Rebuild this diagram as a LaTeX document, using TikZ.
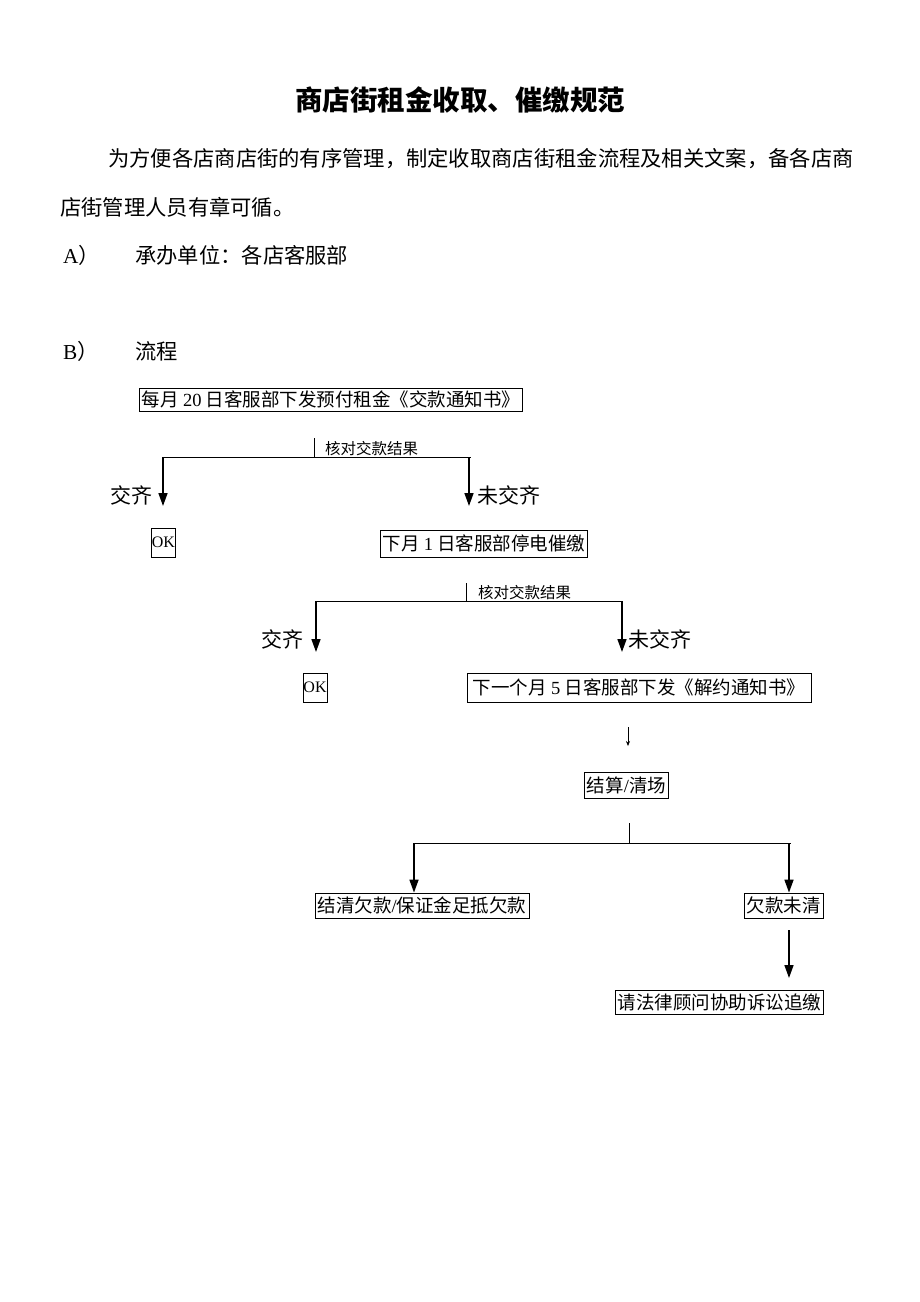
\documentclass[tikz,border=0pt]{standalone}
\usepackage{fontspec}
\setmainfont{Liberation Serif}
\newfontfamily\cjk{Noto Sans CJK SC}
\newfontfamily\latf{Liberation Serif}
\usetikzlibrary{arrows.meta}
\begin{document}
\begin{tikzpicture}[x=1pt,y=-1pt,
  box/.style={draw, line width=0.8pt, inner xsep=2.5pt, inner ysep=0pt, minimum height=24pt, font=\cjk\fontsize{18.5}{18.5}\selectfont},
  okbox/.style={draw, line width=0.8pt, inner xsep=0.5pt, inner ysep=0pt, minimum height=29pt, font=\latf\fontsize{16}{16}\selectfont},
  lab/.style={font=\cjk\fontsize{21}{21}\selectfont, inner sep=0pt},
  body/.style={font=\cjk\fontsize{21.3}{22}\selectfont, inner sep=0pt, anchor=west},
  small/.style={font=\cjk\fontsize{15.5}{16}\selectfont, inner sep=0pt, anchor=west},
  ln/.style={line width=1pt},
  arr/.style={line width=1.6pt, -{Triangle[length=13pt,width=9pt]}},
  thinarr/.style={line width=0.7pt, -{Stealth[length=5pt,width=4pt]}}
]
\useasboundingbox (0,0) rectangle (920,1302);
\fill[white] (0,0) rectangle (920,1302);

% title and text
\node[font=\cjk\bfseries\fontsize{27.5}{28}\selectfont, inner sep=0pt] (title) at (460,100) {商店街租金收取、催缴规范};
\node[body] (p1) at (108,159) {为方便各店商店街的有序管理，制定收取商店街租金流程及相关文案，备各店商};
\node[body] (p2) at (60,207) {店街管理人员有章可循。};
\node[body] (Aa) at (63,255) {{\latf A}）};
\node[body] (At) at (135,255) {承办单位：各店客服部};
\node[body] (Ba) at (63,351) {{\latf B}）};
\node[body] (Bt) at (135,351) {流程};

% level 1
\node[box, minimum height=23pt, minimum width=382pt] (b1) at (331,399.5) {每月 {\latf 20} 日客服部下发预付租金《交款通知书》};
\coordinate (t1a) at (314,438);
\coordinate (t1b) at (314,457);
\node[small] (l1) at (325,449) {核对交款结果};
\coordinate (h1l) at (163,457);
\coordinate (h1r) at (471,457);
\coordinate (e1l) at (163,506);
\coordinate (e1r) at (469,506);
\draw[ln] (t1a) -- (t1b);
\draw[ln] (h1l) -- (h1r);
\draw[arr] (h1l) -- (e1l);
\draw[arr] (h1r -| e1r) -- (e1r);
\node[lab] (y1) at (131,495) {交齐};
\node[lab] (n1) at (509,495) {未交齐};
\node[okbox] (ok1) at (163.5,542.5) {OK};
\node[box, minimum height=27pt, minimum width=206pt] (b3) at (484,543.5) {下月 {\latf 1} 日客服部停电催缴};

% level 2
\coordinate (t2a) at (466,583);
\coordinate (t2b) at (466,601);
\node[small] (l2) at (478,593) {核对交款结果};
\coordinate (h2l) at (316,601);
\coordinate (h2r) at (622,601);
\coordinate (e2l) at (316,652);
\coordinate (e2r) at (622,652);
\draw[ln] (t2a) -- (t2b);
\draw[ln] (h2l) -- (h2r);
\draw[arr] (h2l) -- (e2l);
\draw[arr] (h2r) -- (e2r);
\node[lab] (y2) at (282,639) {交齐};
\node[lab] (n2) at (660,639) {未交齐};
\node[okbox] (ok2) at (315,687.5) {OK};
\node[box, minimum height=29pt, minimum width=344pt] (b5) at (639,687.5) {下一个月 {\latf 5} 日客服部下发《解约通知书》};

% level 3
\coordinate (s1) at (628,727);
\coordinate (s2) at (628,746);
\draw[thinarr] (s1) -- (s2);
\node[box, minimum height=26pt] (b6) at (626.5,785) {结算{\latf /}清场};
\coordinate (t3a) at (629,823);
\coordinate (t3b) at (629,843);
\coordinate (h3l) at (414,843);
\coordinate (h3r) at (791,843);
\coordinate (h3ra) at (789,843);
\draw[ln] (t3a) -- (t3b);
\draw[ln] (h3l) -- (h3r);
\node[box, minimum height=25pt, minimum width=214pt] (b7) at (422,905.5) {结清欠款{\latf /}保证金足抵欠款};
\node[box, minimum height=25pt] (b8) at (783.5,905.5) {欠款未清};
\draw[arr] (h3l) -- (b7.north -| h3l);
\draw[arr] (h3ra) -- (b8.north -| h3ra);
\coordinate (u1) at (789,930);
\coordinate (u2) at (789,978);
\draw[arr] (u1) -- (u2);
\node[box, minimum height=24pt] (b9) at (719.5,1002) {请法律顾问协助诉讼追缴};
\end{tikzpicture}
\end{document}
